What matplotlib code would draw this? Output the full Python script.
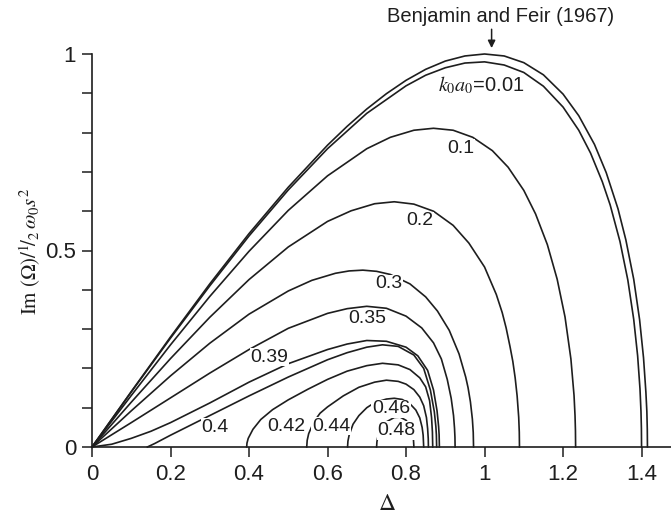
import matplotlib
matplotlib.use("Agg")
import matplotlib.pyplot as plt

# growth rate Im(Omega)/(1/2 w0 s^2) versus Delta
d_bf = [0, 0.1, 0.2, 0.3, 0.4, 0.5, 0.6, 0.65, 0.7, 0.75, 0.8, 0.85, 0.9, 0.95, 1.0,
        1.05, 1.1, 1.15, 1.2, 1.24, 1.28, 1.31, 1.34, 1.36, 1.38, 1.395, 1.405, 1.411,
        1.4135, 1.4146, 1.415]
g_bf = [0, 0.141, 0.280, 0.415, 0.543, 0.661, 0.768, 0.816, 0.860, 0.899, 0.933, 0.961, 0.982,
        0.995, 1.000, 0.995, 0.978, 0.947, 0.898, 0.843, 0.770, 0.698, 0.606, 0.527, 0.427,
        0.324, 0.227, 0.140, 0.090, 0.045, 0]

d_001 = [0, 0.1, 0.2, 0.3, 0.4, 0.5, 0.6, 0.7, 0.8, 0.85, 0.9, 0.95, 1.0, 1.05, 1.1, 1.15,
         1.2, 1.24, 1.27, 1.30, 1.32, 1.345, 1.365, 1.38, 1.39, 1.396, 1.3985, 1.3996, 1.40]
g_001 = [0, 0.140, 0.277, 0.410, 0.537, 0.654, 0.759, 0.849, 0.919, 0.946, 0.965, 0.977,
         0.980, 0.972, 0.953, 0.918, 0.865, 0.806, 0.748, 0.675, 0.616, 0.523, 0.425, 0.325,
         0.232, 0.148, 0.091, 0.047, 0]

d_01 = [0, 0.1, 0.2, 0.3, 0.4, 0.5, 0.6, 0.7, 0.76, 0.82, 0.87, 0.92, 0.97, 1.02, 1.06, 1.10,
        1.13, 1.16, 1.185, 1.205, 1.22, 1.228, 1.2305, 1.2316, 1.232]
g_01 = [0, 0.131, 0.260, 0.383, 0.498, 0.602, 0.690, 0.759, 0.788, 0.806, 0.811, 0.806, 0.788,
        0.754, 0.712, 0.653, 0.593, 0.515, 0.427, 0.331, 0.224, 0.131, 0.080, 0.041, 0]

d_02 = [0, 0.1, 0.2, 0.3, 0.4, 0.5, 0.6, 0.66, 0.72, 0.77, 0.82, 0.87, 0.92, 0.96, 1.0, 1.03,
        1.045, 1.055, 1.065, 1.072, 1.078, 1.083, 1.087, 1.0885, 1.089]
g_02 = [0, 0.114, 0.225, 0.330, 0.426, 0.509, 0.574, 0.601, 0.619, 0.624, 0.618, 0.600, 0.564,
        0.519, 0.458, 0.388, 0.342, 0.303, 0.255, 0.218, 0.176, 0.130, 0.076, 0.038, 0]

d_03 = [0, 0.1, 0.2, 0.3, 0.4, 0.5, 0.56, 0.62, 0.655, 0.69, 0.725, 0.76, 0.81, 0.85, 0.88,
        0.91, 0.935, 0.952, 0.958, 0.964, 0.969, 0.9712, 0.972]
g_03 = [0, 0.092, 0.181, 0.264, 0.338, 0.397, 0.424, 0.442, 0.448, 0.450, 0.447, 0.439, 0.415,
        0.382, 0.346, 0.297, 0.237, 0.178, 0.151, 0.115, 0.071, 0.037, 0]

d_035 = [0, 0.1, 0.2, 0.3, 0.4, 0.5, 0.6, 0.65, 0.7, 0.75, 0.8, 0.84, 0.87, 0.89, 0.905,
         0.915, 0.921, 0.9235, 0.9246, 0.925]
g_035 = [0, 0.062, 0.125, 0.188, 0.248, 0.302, 0.340, 0.352, 0.358, 0.353, 0.333, 0.303, 0.265,
         0.224, 0.172, 0.124, 0.080, 0.048, 0.025, 0]

d_039 = [0, 0.05, 0.1, 0.15, 0.2, 0.3, 0.4, 0.5, 0.6, 0.65, 0.7, 0.75, 0.8, 0.83, 0.855, 0.87,
         0.879, 0.883, 0.8843, 0.885]
g_039 = [0, 0.007, 0.022, 0.040, 0.062, 0.112, 0.165, 0.212, 0.248, 0.262, 0.271, 0.269, 0.254,
         0.232, 0.195, 0.145, 0.092, 0.052, 0.031, 0]

d_040 = [0.141, 0.16, 0.2, 0.3, 0.4, 0.5, 0.6, 0.65, 0.7, 0.74, 0.78, 0.82, 0.845, 0.862, 0.872,
         0.876, 0.8773, 0.878]
g_040 = [0, 0.009, 0.030, 0.080, 0.130, 0.178, 0.222, 0.240, 0.254, 0.260, 0.256, 0.234, 0.200,
         0.145, 0.090, 0.052, 0.031, 0]

d_042 = [0.394, 0.3948, 0.398, 0.41, 0.43, 0.46, 0.5, 0.55, 0.6, 0.65, 0.7, 0.74, 0.78, 0.81,
         0.835, 0.85, 0.86, 0.865, 0.8672, 0.868]
g_042 = [0, 0.010, 0.022, 0.045, 0.070, 0.095, 0.120, 0.147, 0.172, 0.193, 0.207, 0.213, 0.209,
         0.197, 0.176, 0.153, 0.118, 0.075, 0.038, 0]

d_044 = [0.547, 0.5482, 0.552, 0.565, 0.581, 0.6, 0.64, 0.68, 0.72, 0.75, 0.78, 0.80, 0.82,
         0.835, 0.845, 0.852, 0.855, 0.8566, 0.857]
g_044 = [0, 0.017, 0.034, 0.064, 0.086, 0.102, 0.130, 0.152, 0.165, 0.170, 0.167, 0.160, 0.146,
         0.127, 0.105, 0.075, 0.047, 0.021, 0]

d_046 = [0.651, 0.652, 0.655, 0.665, 0.68, 0.70, 0.72, 0.75, 0.77, 0.79, 0.81, 0.825, 0.835,
         0.841, 0.8436, 0.845]
g_046 = [0, 0.015, 0.030, 0.058, 0.080, 0.100, 0.113, 0.122, 0.124, 0.121, 0.110, 0.094, 0.074,
         0.050, 0.030, 0]

d_048 = [0.725, 0.7258, 0.728, 0.735, 0.75, 0.77, 0.785, 0.80, 0.81, 0.816, 0.8188, 0.82]
g_048 = [0, 0.013, 0.025, 0.045, 0.064, 0.075, 0.076, 0.068, 0.055, 0.038, 0.021, 0]

curve_labels = ["0.1", "0.2", "0.3", "0.35", "0.39", "0.4", "0.42", "0.44", "0.46", "0.48"]
label_x = [0.939, 0.836, 0.755, 0.702, 0.451, 0.313, 0.496, 0.609, 0.762, 0.776]
label_y = [0.760, 0.576, 0.415, 0.326, 0.228, 0.050, 0.052, 0.053, 0.097, 0.042]

x_ticks = [0, 0.2, 0.4, 0.6, 0.8, 1.0, 1.2, 1.4]
x_ticklabels = ["0", "0.2", "0.4", "0.6", "0.8", "1", "1.2", "1.4"]
y_ticks = [0, 0.5, 1.0]
y_ticklabels = ["0", "0.5", "1"]
y_minor = [0.1, 0.2, 0.3, 0.4, 0.6, 0.7, 0.8, 0.9]

plt.rcParams["font.family"] = ["Liberation Sans", "DejaVu Sans"]
plt.rcParams["mathtext.fontset"] = "stix"
INK = "#1e1e1e"

fig = plt.figure(figsize=(6.71, 5.14), dpi=100)
ax = fig.add_axes([92 / 671, 67 / 514, 579 / 671, 393 / 514])

curves = [(d_bf, g_bf), (d_001, g_001), (d_01, g_01), (d_02, g_02), (d_03, g_03),
          (d_035, g_035), (d_039, g_039), (d_040, g_040), (d_042, g_042),
          (d_044, g_044), (d_046, g_046), (d_048, g_048)]
for dx, gy in curves:
    ax.plot(dx, gy, color=INK, lw=1.2, clip_on=False, solid_joinstyle="round")

ax.set_xlim(0, 1.475)
ax.set_ylim(0, 1.0)
for side in ("top", "right"):
    ax.spines[side].set_visible(False)
for side in ("left", "bottom"):
    ax.spines[side].set_linewidth(1.2)
    ax.spines[side].set_color(INK)

ax.set_xticks(x_ticks)
ax.set_xticklabels(x_ticklabels)
ax.set_yticks(y_ticks)
ax.set_yticklabels(y_ticklabels)
ax.set_yticks(y_minor, minor=True)
ax.tick_params(which="both", direction="out", length=7.5, width=1.1, color=INK,
               labelsize=16, labelcolor=INK)
ax.tick_params(axis="x", pad=5)
ax.tick_params(axis="y", pad=4)

ax.set_xlabel(r"$\Delta$", fontsize=17, color=INK)
ax.xaxis.label.set_va("center")
ax.xaxis.set_label_coords(0.509, -0.146)
ax.set_ylabel(r"$\mathrm{Im}\ (\Omega)/{}^{1}\!/_{2}\,\omega_0 s^2$", fontsize=15, color=INK)
ax.yaxis.label.set_va("center")
ax.yaxis.set_label_coords(-0.107, 0.497)

for txt, lx, ly in zip(curve_labels, label_x, label_y):
    ax.text(lx, ly, txt, ha="center", va="center", fontsize=14, color=INK, zorder=5,
            bbox=dict(facecolor="white", edgecolor="none", pad=0.4))

ax.text(0.991, 0.921, r"$k_0a_0$=0.01", ha="center", va="center", fontsize=14.5,
        color=INK, zorder=5)

ax.text(1.042, 1.095, "Benjamin and Feir (1967)", ha="center", va="center",
        fontsize=14.5, color=INK, clip_on=False)
ax.annotate("", xy=(1.018, 1.008), xytext=(1.018, 1.070),
            arrowprops=dict(arrowstyle="-|>", color=INK, lw=1.1, mutation_scale=11),
            annotation_clip=False)

fig.savefig("out.png", dpi=100)
